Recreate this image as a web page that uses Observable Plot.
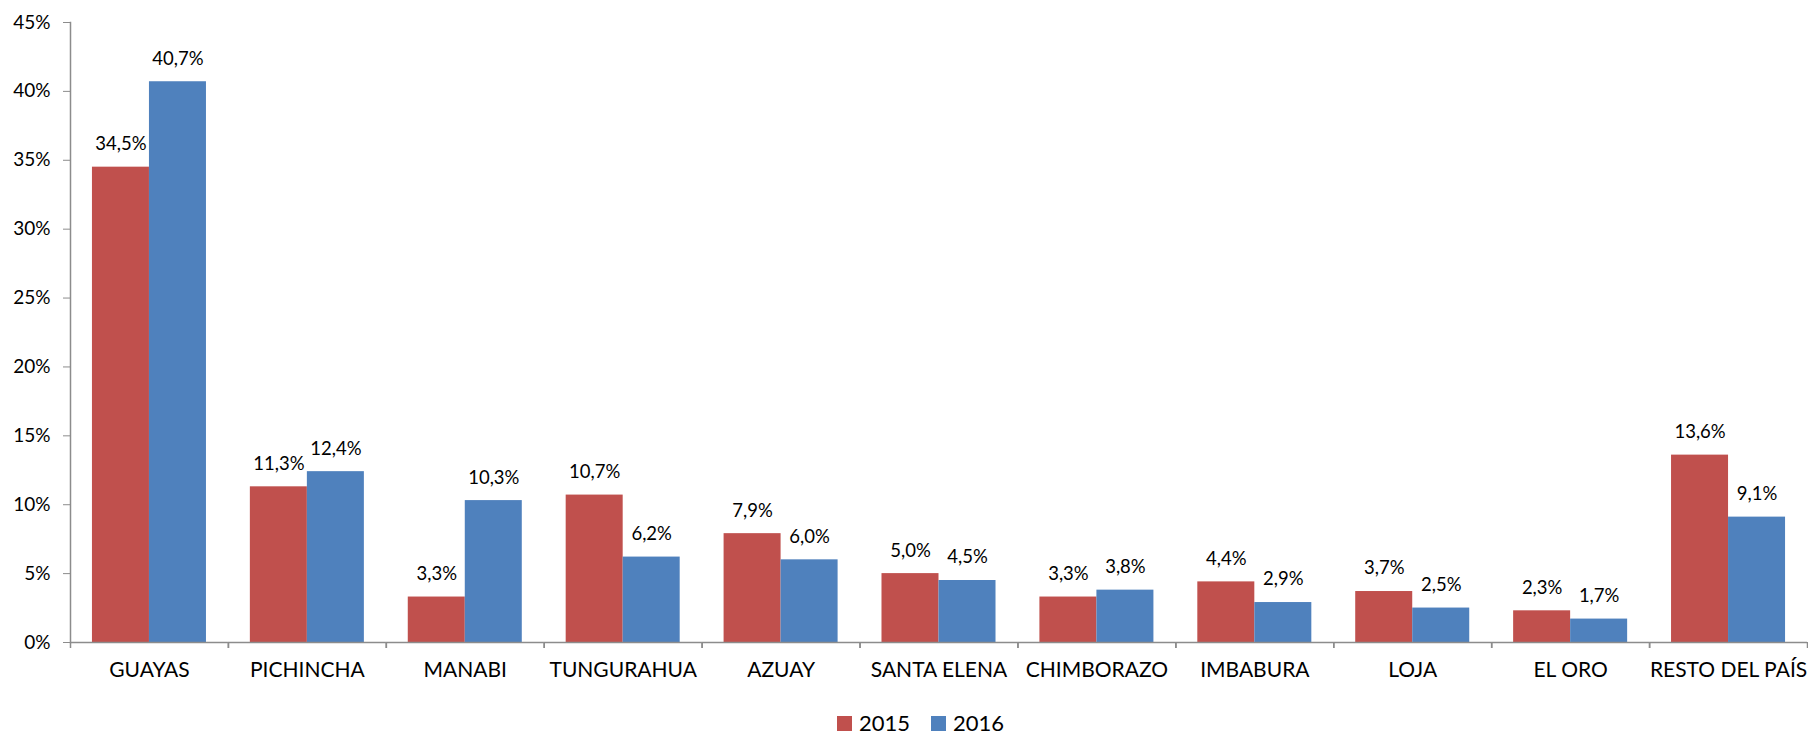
<!DOCTYPE html>
<html><head><meta charset="utf-8">
<script src="https://cdn.jsdelivr.net/npm/d3@7"></script>
<script src="https://cdn.jsdelivr.net/npm/@observablehq/plot@0.6"></script>
<style>
html,body{margin:0;padding:0;background:#fff;overflow:hidden;}
body{font-family:Lato, sans-serif;color:#000;width:1808px;height:737px;}
#chart svg{display:block;max-width:none !important;}
#legend{display:flex;align-items:center;height:28px;margin-top:9px;padding-left:837px;font-size:22px;line-height:28px;}
#legend .item{display:flex;align-items:center;margin-right:21px;}
#legend .sw{width:15px;height:15px;display:inline-block;margin-right:7px;}
</style></head><body><div id="chart"></div><div id="legend"></div>
<script>
const provinces = ["GUAYAS","PICHINCHA","MANABI","TUNGURAHUA","AZUAY","SANTA ELENA","CHIMBORAZO","IMBABURA","LOJA","EL ORO","RESTO DEL PAÍS"];
const years = ["2015","2016"];
const values2015 = [34.5,11.3,3.3,10.7,7.9,5.0,3.3,4.4,3.7,2.3,13.6];
const values2016 = [40.7,12.4,10.3,6.2,6.0,4.5,3.8,2.9,2.5,1.7,9.1];
const yTicks = [0,5,10,15,20,25,30,35,40,45];
const colors = ["#C0504D","#4F81BD"];
const gray = "#8c8c8c";

const data = provinces.flatMap((p,i)=>[
  {province:p, year:years[0], value: values2015[i]},
  {province:p, year:years[1], value: values2016[i]}
]);
const fmt = v => v.toFixed(1).replace(".", ",") + "%";

const width = 1808, marginLeft = 70, marginRight = 1;
const half = (width - marginLeft - marginRight) / provinces.length / 2;

const chart = Plot.plot({
  width, height: 700, marginTop: 22, marginBottom: 58, marginLeft, marginRight,
  style: {fontFamily: "Lato, sans-serif", color: "#000", background: "#fff"},
  fx: {domain: provinces, padding: 0, round: false, label: null},
  x: {domain: years, paddingInner: 0, paddingOuter: 0.385, round: false, axis: null},
  y: {domain: [0, 45], label: null},
  color: {domain: years, range: colors},
  marks: [
    Plot.axisY({ticks: yTicks, tickSize: 7, tickPadding: 13, tickFormat: d => d + "%", fontSize: 19, stroke: gray, fill: "#000", label: null}),
    Plot.frame({anchor: "left", facetAnchor: "left", stroke: gray, strokeWidth: 1.5}),
    Plot.barY(data, {fx: "province", x: "year", y: "value", fill: "year"}),
    Plot.ruleY([0], {stroke: gray, strokeWidth: 1.5}),
    Plot.axisFx({anchor: "bottom", tickSize: 6, fill: "none", stroke: gray, strokeWidth: 1.5, dx: -half, label: null}),
    Plot.axisFx({anchor: "bottom", tickSize: 6, fill: "none", stroke: gray, strokeWidth: 1.5, dx: half, label: null}),
    Plot.axisFx({anchor: "bottom", tickSize: 0, tickPadding: 20, fontSize: 21, fill: "#000", label: null}),
    Plot.text(data, {fx: "province", x: "year", y: "value", text: d => fmt(d.value), dy: -23, fontSize: 18.5, fill: "#000"})
  ]
});
document.getElementById("chart").appendChild(chart);

const legend = document.getElementById("legend");
years.forEach((y, i) => {
  const item = document.createElement("span");
  item.className = "item";
  const sw = document.createElement("span");
  sw.className = "sw";
  sw.style.background = colors[i];
  item.appendChild(sw);
  item.appendChild(document.createTextNode(y));
  legend.appendChild(item);
});
</script></body></html>
